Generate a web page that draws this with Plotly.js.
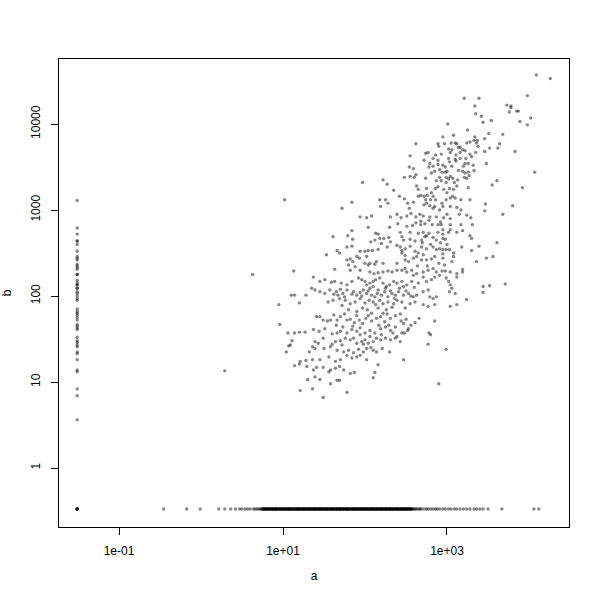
<!DOCTYPE html>
<html>
<head>
<meta charset="utf-8">
<script src="https://cdn.plot.ly/plotly-3.0.1.min.js"></script>
<style>html,body{margin:0;padding:0;background:#fff;}#chart{width:600px;height:600px;}</style>
</head>
<body>
<div id="chart"></div>
<script>
// All values are stored as log10(a), log10(b).
const cloudUpper = [
[3.21,4.30],[3.39,4.30],[3.98,4.33],[3.34,4.21],[3.73,4.22],[3.78,4.21],[3.78,4.19],[3.85,4.15],[3.87,4.15],[3.76,4.14],[3.35,4.12],[3.42,4.09],[4.02,4.07],[3.54,4.04],[3.44,4.02],[3.89,4.03],[3.01,4.00],[3.98,3.99],[3.25,3.93],[3.51,3.89],[3.68,3.88],[2.95,3.85],[3.08,3.87],[3.34,3.85],[3.46,3.83],[3.37,3.81],[3.33,3.81],[2.62,3.77],[2.89,3.77],[2.97,3.77],[3.05,3.78],[3.10,3.78],[3.12,3.77],[3.24,3.78],[3.28,3.79],[3.36,3.78],[3.64,3.77],[2.90,3.74],[3.02,3.71],[3.06,3.70],[3.14,3.73],[3.16,3.73],[3.19,3.70],[3.22,3.69],[3.38,3.74],[3.52,3.72],[3.62,3.72],[3.46,3.68],[3.35,3.67],[3.83,3.68],[2.74,3.66],[2.77,3.67],[2.86,3.64],[2.93,3.65],[3.04,3.67],[3.16,3.67],[2.55,3.63],[3.11,3.64],[3.28,3.65],
[2.72,3.58],[2.83,3.60],[2.89,3.58],[3.02,3.60],[3.16,3.60],[3.23,3.60],[3.11,3.57],[3.03,3.56],[3.22,3.54],[3.26,3.54],[2.79,3.54],[2.89,3.53],[2.95,3.52],[2.54,3.50],[2.59,3.48],[2.78,3.50],[2.83,3.51],[2.98,3.50],[3.06,3.51],[3.20,3.51],[3.32,3.52],[3.48,3.54],[3.33,3.46],[2.91,3.47],[2.94,3.44],[2.98,3.44],[3.00,3.45],[2.81,3.43],[2.85,3.45],[3.19,3.45],[3.26,3.44],[3.22,3.43],[4.07,3.44],
[2.48,3.38],[2.55,3.39],[2.60,3.38],[2.62,3.41],[2.74,3.37],[2.91,3.38],[2.99,3.38],[3.02,3.36],[3.04,3.39],[3.07,3.37],[3.21,3.38],[3.24,3.37],[3.27,3.40],[3.61,3.34],[3.55,3.29],[2.99,3.32],[2.93,3.34],[2.87,3.34],[3.09,3.32],[3.13,3.35],[1.97,3.32],[2.22,3.35],[2.27,3.30],[2.63,3.28],[2.65,3.24],[2.75,3.25],[2.86,3.25],[2.89,3.27],[2.96,3.24],[3.03,3.25],[3.08,3.24],[3.26,3.26],[3.92,3.26],[2.35,3.23],
[1.02,3.12],[1.72,3.02],[1.84,3.09],[2.18,3.12],[2.19,3.04],[2.25,3.12],[2.28,3.08],[2.42,3.16],[2.48,3.13],[2.52,3.08],[2.54,3.02],[2.56,2.96],[2.59,3.09],[2.65,3.16],[2.68,3.17],[2.72,3.16],[2.76,3.17],[2.80,3.12],[2.83,3.16],[2.86,3.12],[2.74,3.12],[2.72,3.06],[2.75,3.08],[2.79,3.05],[2.83,3.02],[2.85,3.04],[2.91,3.00],[2.95,3.04],[2.99,3.12],[3.04,3.14],[3.07,3.16],[3.10,3.14],[3.17,3.12],[3.28,3.12],[3.04,3.04],[3.12,3.03],[3.17,3.00],[3.47,3.07],[3.46,2.99],[3.80,3.05],[3.68,2.95],
[1.94,2.92],[2.02,2.91],[2.08,2.93],[2.31,2.92],[2.39,2.95],[2.44,2.91],[2.51,2.93],[2.62,2.92],[2.67,2.95],[2.71,2.93],[2.79,2.92],[2.87,2.92],[2.96,2.91],[3.04,2.90],[3.15,2.95],[3.24,2.94],[3.29,2.91],
[4.09,4.57],[4.26,4.53],
[2.94,3.08],[3.00,3.20],[3.12,3.28],[2.81,3.20],[3.14,3.46],[3.10,3.59],[3.30,3.62]
];
const cloudMiddle = [
[2.04,2.80],[2.30,2.80],[2.51,2.81],[2.62,2.85],[2.68,2.83],[2.73,2.84],[2.82,2.83],[2.89,2.83],[2.93,2.83],[3.04,2.83],[3.17,2.83],[3.31,2.83],[1.84,2.76],[3.04,2.77],[2.95,2.77],[2.43,2.74],[2.55,2.74],[2.65,2.73],[2.71,2.74],[2.78,2.73],[2.89,2.74],[2.95,2.72],[3.02,2.74],[3.12,2.74],[3.19,2.76],[2.13,2.73],[2.16,2.72],[1.61,2.69],[1.79,2.70],[1.85,2.66],[2.07,2.63],[2.12,2.65],[2.18,2.67],[2.23,2.67],[2.29,2.68],[2.45,2.69],[2.47,2.65],[2.55,2.66],[2.61,2.64],[2.69,2.65],[2.73,2.69],[2.75,2.70],[2.83,2.68],[2.87,2.65],[2.95,2.67],[2.98,2.66],[3.28,2.70],[3.30,2.67],[3.39,2.58],[3.61,2.62],
[1.78,2.57],[1.84,2.58],[1.94,2.52],[2.00,2.52],[2.04,2.53],[2.09,2.53],[2.16,2.54],[2.20,2.61],[2.27,2.57],[2.31,2.63],[2.39,2.59],[2.43,2.57],[2.45,2.53],[2.49,2.55],[2.55,2.58],[2.61,2.52],[2.65,2.50],[2.69,2.57],[2.75,2.55],[2.83,2.57],[2.87,2.54],[2.91,2.55],[2.95,2.54],[2.99,2.54],[3.03,2.54],[3.08,2.50],[2.71,2.48],[2.63,2.46],[2.49,2.47],[2.45,2.50],[1.53,2.48],[1.66,2.53],[1.69,2.50],[3.18,2.57],[3.30,2.53],[3.56,2.46],[3.08,2.46],[2.95,2.49],
[1.78,2.42],[1.82,2.43],[1.85,2.40],[1.90,2.46],[1.93,2.44],[2.00,2.38],[2.04,2.36],[2.06,2.38],[2.12,2.37],[2.14,2.40],[2.02,2.46],[2.22,2.38],[2.39,2.38],[2.49,2.42],[2.53,2.40],[2.59,2.44],[2.69,2.42],[2.75,2.42],[2.81,2.43],[2.95,2.44],[1.63,2.31],[1.82,2.30],[1.80,2.36],[1.88,2.34],[1.94,2.30],[2.06,2.28],[2.11,2.26],[2.16,2.27],[2.22,2.28],[2.28,2.29],[2.33,2.28],[2.39,2.30],[2.45,2.30],[2.49,2.32],[2.51,2.28],[2.59,2.24],[2.63,2.26],[2.71,2.28],[2.77,2.30],[2.83,2.32],[2.87,2.28],[2.94,2.29],[2.98,2.29],[3.04,2.28],[3.12,2.26],[3.19,2.28],[3.19,2.31],[3.36,2.40],[3.48,2.44],
[1.13,2.29],[1.37,2.22],[1.45,2.17],[1.51,2.19],[1.59,2.16],[1.63,2.17],[1.71,2.15],[1.78,2.13],[1.84,2.17],[1.92,2.21],[1.96,2.19],[2.00,2.17],[2.02,2.13],[2.06,2.15],[2.10,2.17],[2.13,2.19],[2.18,2.21],[2.22,2.15],[2.26,2.11],[2.30,2.13],[2.35,2.17],[2.39,2.15],[2.45,2.17],[2.47,2.11],[2.51,2.13],[2.57,2.17],[2.60,2.10],[2.65,2.15],[2.71,2.22],[2.75,2.17],[2.81,2.19],[2.85,2.22],[2.91,2.24],[2.99,2.21],[3.02,2.17],[3.04,2.13],[3.06,2.09],[3.12,2.22],[3.44,2.11],[3.52,2.12],[3.71,2.14],
[1.35,2.09],[1.39,2.07],[1.45,2.05],[1.51,2.03],[1.57,2.07],[1.65,2.05],[1.67,2.01],[1.73,2.03],[1.78,2.07],[1.86,2.05],[1.90,2.01],[1.94,2.04],[1.98,2.07],[2.02,2.03],[2.06,2.09],[2.08,2.01],[2.12,1.99],[2.16,2.07],[2.20,2.01],[2.24,2.05],[2.28,1.99],[2.33,2.03],[2.37,2.01],[2.41,2.05],[2.47,2.01],[2.53,2.03],[2.59,1.99],[2.63,2.01],[2.71,2.05],[2.77,2.07],[2.79,1.99],[2.83,1.97],[2.87,1.99],[3.03,2.05],[3.10,2.03],[3.24,1.96],[3.44,2.04],
[1.10,2.01],[1.14,2.01],[1.28,2.01],[1.20,1.92],[0.95,1.90],[1.55,1.93],[1.61,1.95],[1.69,1.97],[1.76,1.95],[1.82,1.91],[1.88,1.93],[1.94,1.97],[2.00,1.92],[2.05,1.95],[2.10,1.93],[2.13,1.90],[2.18,1.95],[2.22,1.91],[2.28,1.93],[2.35,1.91],[2.39,1.95],[2.45,1.93],[2.49,1.86],[2.55,1.91],[2.61,1.93],[2.71,1.90],[2.77,1.88],[2.85,1.90],[3.04,1.88],[3.12,1.90],
[2.70,2.62],[2.80,2.60],[2.92,2.62],[3.00,2.60],[2.85,2.46],[2.90,2.38],[2.97,2.36],[2.64,2.35],[2.57,2.30],[2.76,2.35],[3.06,2.40],[2.68,2.87],[2.78,2.88],[2.92,2.86],[3.00,2.95],[2.58,2.82],[2.40,2.84],
[1.62,2.02],[1.70,2.08],[1.75,1.99],[1.84,2.02],[1.96,2.00],[2.04,2.06],[2.10,2.11],[2.15,2.03],[2.25,2.09],[2.31,2.06],[2.36,1.97],[2.42,2.09],[2.50,2.06],[2.56,2.00],[1.97,1.86],[2.03,1.84],[2.16,1.86],[2.26,1.84],[2.33,1.87],[1.72,1.89],[1.80,1.84],[1.90,1.82],[2.08,1.80]
];
const cloudLower = [
[0.96,1.67],[1.06,1.57],[1.14,1.57],[1.20,1.58],[1.27,1.58],[1.37,1.61],[1.41,1.76],[1.45,1.76],[1.49,1.72],[1.54,1.71],[1.58,1.72],[1.62,1.78],[1.66,1.72],[1.70,1.76],[1.75,1.79],[1.78,1.72],[1.82,1.73],[1.87,1.69],[1.90,1.77],[1.93,1.72],[1.97,1.68],[2.01,1.74],[2.04,1.77],[2.08,1.71],[2.14,1.74],[2.19,1.76],[2.22,1.80],[2.27,1.79],[2.31,1.74],[2.37,1.77],[2.43,1.79],[2.47,1.68],[2.50,1.73],[2.53,1.62],[2.61,1.69],[2.66,1.74],[2.85,1.71],[2.78,1.57],[2.80,1.55],
[1.44,1.59],[1.51,1.62],[1.60,1.56],[1.66,1.57],[1.70,1.59],[1.78,1.57],[1.84,1.61],[1.90,1.59],[1.94,1.55],[2.00,1.57],[2.06,1.60],[2.12,1.57],[2.19,1.62],[2.25,1.64],[2.31,1.60],[2.37,1.64],[2.45,1.57],[2.48,1.57],[2.39,1.53],[1.39,1.47],[1.43,1.45],[1.36,1.41],[1.49,1.51],[1.64,1.47],[1.72,1.43],[1.76,1.51],[1.82,1.49],[1.86,1.51],[1.90,1.45],[1.96,1.47],[2.00,1.49],[2.04,1.45],[2.10,1.47],[2.19,1.49],[2.25,1.51],[2.31,1.49],[2.37,1.51],[2.43,1.47],[2.52,1.60],[1.11,1.48],[1.07,1.42],[1.04,1.35],[1.09,1.43],[2.77,1.44],[2.99,1.38],
[1.32,1.35],[1.39,1.39],[1.50,1.39],[1.58,1.41],[1.66,1.37],[1.74,1.35],[1.80,1.37],[1.86,1.34],[1.92,1.38],[1.98,1.35],[2.02,1.39],[2.10,1.37],[2.14,1.35],[2.21,1.39],[2.30,1.35],[2.47,1.26],[1.21,1.24],[1.28,1.25],[1.36,1.26],[1.45,1.26],[1.56,1.29],[1.64,1.24],[1.70,1.26],[1.78,1.31],[1.84,1.28],[1.90,1.29],[1.94,1.31],[2.02,1.26],[1.14,1.19],[1.20,1.21],[1.29,1.18],[1.37,1.14],[1.41,1.17],[1.49,1.17],[1.56,1.12],[1.58,1.14],[1.64,1.16],[1.69,1.18],[1.74,1.14],[1.82,1.10],[1.87,1.11],[2.10,1.05],[2.12,1.11],[2.16,1.20],[0.29,1.13],[1.30,1.03],[1.39,1.06],[1.45,1.03],[1.58,0.98],[1.66,1.02],[1.69,1.02],[1.21,0.90],[1.36,0.92],[1.49,0.82],[1.78,0.88],[2.90,0.98],
[0.63,2.25],
[2.17,1.66],[2.24,1.70],[2.29,1.66],[1.94,1.63],[1.85,1.65],[2.06,1.53],[2.14,1.51],[1.73,1.64],[1.65,1.66],[2.20,1.55],[2.34,1.57],[2.56,1.66],[2.44,1.71],[1.98,1.44],[2.07,1.40],[1.70,1.48],[1.60,1.44]
];
// points whose a is tiny (left column, a ~ 0.03)
const columnLog10A = -1.51;
const columnLog10B = [3.11,2.79,2.72,2.64,2.64,2.60,2.52,2.46,2.44,2.42,2.37,2.35,2.33,2.31,2.25,2.25,2.18,2.15,2.13,2.13,2.09,2.09,2.05,2.03,2.00,1.97,1.95,1.85,1.82,1.80,1.78,1.75,1.72,1.67,1.65,1.63,1.61,1.52,1.48,1.46,1.43,1.41,1.35,1.33,1.26,1.14,1.12,0.92,0.84,0.56,-0.477,-0.477,-0.477,-0.477,-0.477];
// points whose b is zero (plotted at b ~ 1/3, bottom row)
const rowLog10B = -0.477;
const rowLog10A = [
-0.455,-0.175,-0.01,0.216,0.289,0.362,0.42,0.47,0.50,0.54,0.57,0.60,0.64,0.66,0.68,0.70,
0.72,0.73,0.745,0.76,0.77,0.785,0.79,0.805,0.82,0.83,0.84,0.855,0.87,0.88,0.89,0.905,0.915,0.93,0.94,0.95,0.965,0.975,0.99,1.0,1.01,1.025,1.035,1.05,1.06,1.07,1.085,1.095,1.11,1.12,1.13,1.145,1.155,1.17,1.18,1.19,1.205,1.215,1.23,1.24,1.25,1.265,1.275,1.29,1.3,1.31,1.325,1.335,1.35,1.36,1.37,1.385,1.395,1.41,1.42,1.43,1.445,1.455,1.47,1.48,1.49,1.505,1.515,1.53,1.54,1.55,1.565,1.575,1.59,1.6,1.61,1.625,1.635,1.65,1.66,1.67,1.685,1.695,1.71,1.72,1.73,1.745,1.755,1.77,1.78,1.79,1.805,1.815,1.83,1.84,1.85,1.865,1.875,1.89,1.9,1.91,1.925,1.935,1.95,1.96,1.97,1.985,1.995,2.01,2.02,2.03,2.045,2.055,2.07,2.08,2.09,2.105,2.115,2.13,2.14,2.15,2.165,2.175,2.19,2.2,2.21,2.225,2.235,2.25,2.26,2.27,2.285,2.295,2.31,2.32,2.33,2.345,2.355,2.37,2.38,2.39,2.405,2.415,2.43,2.44,2.45,2.465,2.475,2.49,2.5,2.51,2.525,2.535,2.55,2.56,2.575,2.59,
0.78,0.81,0.86,0.9,0.92,0.96,1.0,1.03,1.07,1.1,1.14,1.17,1.2,1.24,1.27,1.31,1.34,1.38,1.4,1.44,1.47,1.5,1.53,1.57,1.6,1.64,1.67,1.7,1.74,1.77,1.8,1.84,1.87,1.9,1.94,1.97,2.0,2.04,2.07,2.1,2.14,2.17,2.2,2.24,2.27,2.3,2.34,2.37,2.4,2.44,2.47,2.51,2.54,
0.755,0.795,0.835,0.875,0.915,0.955,0.995,1.04,1.08,1.115,1.16,1.195,1.235,1.275,1.315,1.355,1.39,1.43,1.465,1.51,1.545,1.585,1.62,1.66,1.695,1.735,1.775,1.81,1.85,1.885,1.925,1.96,2.0,2.035,2.075,2.11,2.15,2.19,2.225,2.26,2.3,2.335,2.375,2.41,2.45,2.485,2.52,2.555,
0.765,0.815,0.845,0.885,0.925,0.97,1.015,1.055,1.09,1.135,1.175,1.21,1.255,1.295,1.33,1.375,1.415,1.45,1.495,1.535,1.57,1.615,1.655,1.69,1.725,1.765,1.8,1.845,1.88,1.92,1.955,1.99,2.025,2.065,2.1,2.135,2.18,2.215,2.25,2.29,2.325,2.36,2.4,2.435,2.47,2.505,2.545,2.58,
2.61,2.62,2.64,2.66,2.67,2.69,2.72,2.75,2.77,2.80,2.83,2.86,2.88,2.91,2.95,2.98,3.02,3.05,3.09,3.12,3.16,3.20,3.24,3.28,3.33,3.36,3.40,3.44,3.50,3.67,4.06,4.12
];
// axis ticks
const xTickVals = [0.1, 10, 1000];
const xTickText = ['1e-01', '1e+01', '1e+03'];
const yTickVals = [1, 10, 100, 1000, 10000];
const yTickText = ['1', '10', '100', '1000', '10000'];

const logA = [], logB = [];
[cloudUpper, cloudMiddle, cloudLower].forEach(zone => zone.forEach(p => { logA.push(p[0]); logB.push(p[1]); }));
columnLog10B.forEach(v => { logA.push(columnLog10A); logB.push(v); });
rowLog10A.forEach(v => { logA.push(v); logB.push(rowLog10B); });
const a = logA.map(v => Math.pow(10, v));
const b = logB.map(v => Math.pow(10, v));

const font = {family: '"Liberation Sans", Arial, Helvetica, sans-serif', size: 12, color: '#000'};
const trace = {
  x: a, y: b, type: 'scatter', mode: 'markers',
  marker: {size: 3.4, color: 'rgba(0,0,0,0.47)', line: {width: 0}},
  hoverinfo: 'x+y'
};
const axisCommon = {
  type: 'log', showgrid: false, zeroline: false,
  ticks: 'outside', ticklen: 7, tickwidth: 1, tickcolor: '#000',
  showline: true, mirror: true, linecolor: '#000', linewidth: 1,
  tickfont: font, tickmode: 'array'
};
const layout = {
  width: 600, height: 600,
  margin: {l: 59, r: 31, t: 59, b: 73},
  paper_bgcolor: '#fff', plot_bgcolor: '#fff',
  showlegend: false,
  xaxis: Object.assign({}, axisCommon, {
    range: [-1.732, 4.488], tickvals: xTickVals, ticktext: xTickText,
    ticklabelstandoff: 6,
    title: {text: 'a', font: font, standoff: 14}
  }),
  yaxis: Object.assign({}, axisCommon, {
    range: [-0.686, 4.756], tickvals: yTickVals, ticktext: yTickText,
    tickangle: -90, ticklabelstandoff: 6,
    title: {text: 'b', font: font, standoff: 18}
  })
};
Plotly.newPlot('chart', [trace], layout, {staticPlot: true, displayModeBar: false});
</script>
</body>
</html>
